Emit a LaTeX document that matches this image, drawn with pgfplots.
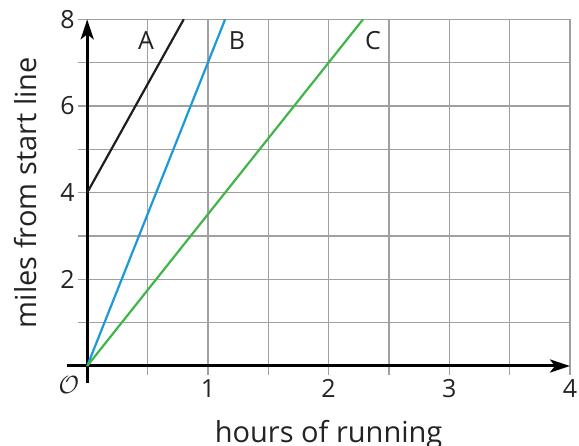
\documentclass[border=0pt]{standalone}
\usepackage{fontspec}
\setmainfont{Open Sans}
\usepackage{pgfplots}
\pgfplotsset{compat=1.18}
\usetikzlibrary{arrows.meta}
\definecolor{gridgray}{RGB}{160,160,160}
\definecolor{lineA}{RGB}{30,30,30}
\definecolor{lineB}{RGB}{27,154,214}
\definecolor{lineC}{RGB}{64,181,73}
\definecolor{txt}{RGB}{35,35,35}
\begin{document}
\begin{tikzpicture}[x=1pt,y=1pt]
\useasboundingbox (-87.2,-80) rectangle (491.8,366);
\begin{axis}[
  at={(0,0)}, anchor=south west,
  scale only axis, width=482.8pt, height=346.7pt,
  xmin=0, xmax=4, ymin=0, ymax=8,
  xtick={1,2,3,4}, minor xtick={0.5,1.5,2.5,3.5},
  ytick={2,4,6,8}, minor ytick={1,3,5,7},
  grid=both,
  major grid style={gridgray, line width=1.4pt},
  minor grid style={gridgray, line width=1.4pt},
  every tick/.style={gridgray, line width=1.4pt},
  tick align=outside, major tick length=9pt, minor tick length=9pt,
  tick pos=left,
  axis line style={draw=none},
  tick label style={font=\fontsize{25}{29}\selectfont, text=txt},
  xticklabel style={yshift=-1pt},
  /pgf/number format/assume math mode=true,
  xlabel={hours of running},
  ylabel={miles from start line},
  xlabel style={at={(axis description cs:0.5,-0.1558)}, anchor=north, inner sep=0pt, font=\fontsize{29}{33}\selectfont, text=txt},
  ylabel style={at={(axis description cs:-0.1056,0.5)}, anchor=base, inner sep=0pt, font=\fontsize{29}{33}\selectfont, text=txt},
  clip=false,
]
\draw[black, line width=3pt, -{Stealth[length=20pt, width=13pt, inset=5pt]}] (axis cs:-0.167,0) -- (axis cs:4,0);
\draw[black, line width=3pt, -{Stealth[length=20pt, width=13pt, inset=5pt]}] (axis cs:0,-0.392) -- (axis cs:0,8);
\addplot[lineA, line width=2.2pt] coordinates {(0,4) (0.8,8)};
\addplot[lineB, line width=2.2pt] coordinates {(0,0) (1,7) (1.142857,8)};
\addplot[lineC, line width=2.2pt] coordinates {(0,0) (2,7) (2.285714,8)};
\node[font=\fontsize{25}{29}\selectfont, text=txt] at (axis cs:0.487,7.51) {A};
\node[font=\fontsize{25}{29}\selectfont, text=txt] at (axis cs:1.241,7.51) {B};
\node[font=\fontsize{25}{29}\selectfont, text=txt] at (axis cs:2.368,7.51) {C};
\node[font=\fontsize{36}{38}\selectfont, text=txt] at (axis cs:-0.151,-0.43) {$\mathcal{O}$};
\end{axis}
\end{tikzpicture}
\end{document}
